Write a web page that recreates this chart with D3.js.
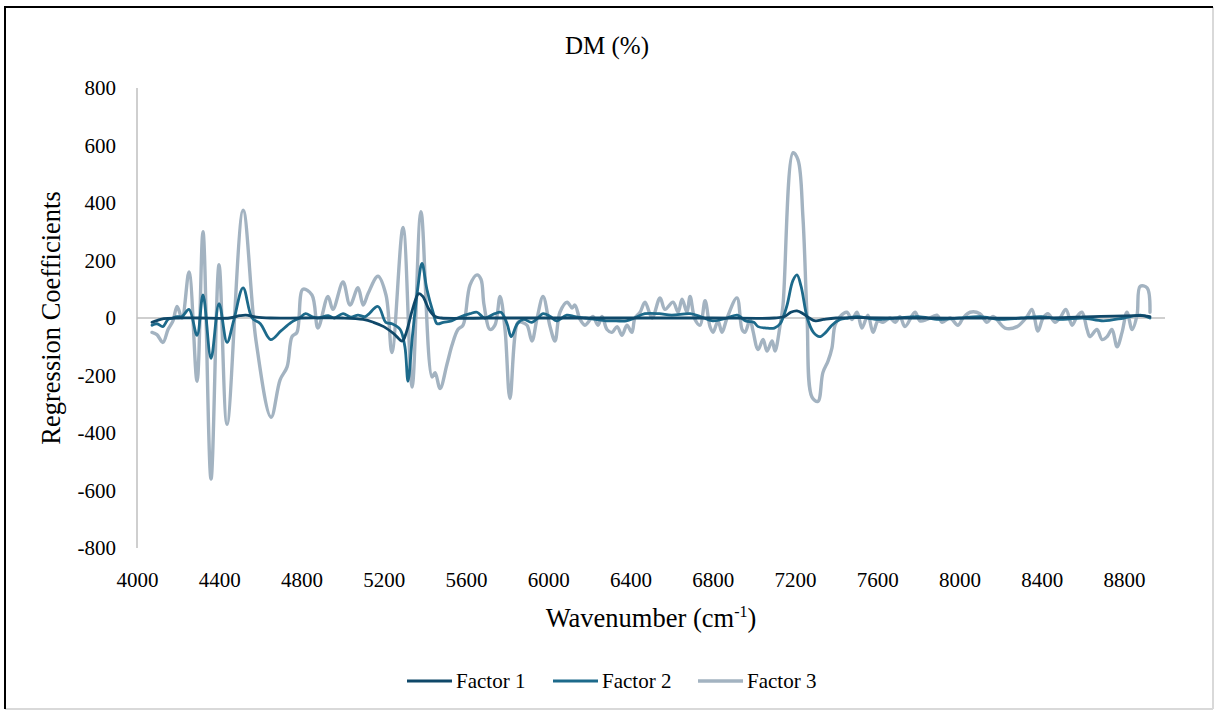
<!DOCTYPE html>
<html>
<head>
<meta charset="utf-8">
<script src="https://cdn.jsdelivr.net/npm/d3@7"></script>
<style>
  html, body { margin: 0; padding: 0; background: #fff; }
  svg { display: block; }
  svg text { font-family: "Liberation Serif", "Times New Roman", serif; fill: #000; }
</style>
</head>
<body>
<svg id="chart" width="1215" height="711"></svg>
<script>
// ---- data ----
const title = "DM (%)";
const seriesNames = ["Factor 1", "Factor 2", "Factor 3"];
const xTicks = [4000, 4400, 4800, 5200, 5600, 6000, 6400, 6800, 7200, 7600, 8000, 8400, 8800];
const yTicks = [-800, -600, -400, -200, 0, 200, 400, 600, 800];

const f1Wn  = [4073, 4100, 4130, 4200, 4300, 4450, 4500, 4530, 4580, 4650, 4800, 5000, 5100, 5150, 5200, 5250, 5290, 5310, 5340, 5370, 5390, 5420, 5450, 5480, 5700, 6200, 6800, 7100, 7150, 7180, 7210, 7240, 7270, 7300, 7340, 7400, 7800, 8400, 8880, 8927];
const f1Val = [-15, -8, -2, 0, 0, 0, 8, 10, 3, 0, 0, 0, -5, -15, -30, -55, -80, -50, 30, 85, 75, 30, 5, 0, 0, 0, 0, 0, 5, 20, 25, 15, 0, -10, -5, 0, 0, 0, 8, 5];

const f2Wn  = [4073, 4097, 4126, 4151, 4175, 4195, 4219, 4253, 4292, 4321, 4360, 4399, 4438, 4470, 4516, 4560, 4600, 4650, 4700, 4750, 4790, 4820, 4850, 4880, 4930, 4960, 5002, 5040, 5075, 5110, 5172, 5210, 5240, 5280, 5303, 5318, 5340, 5365, 5386, 5410, 5440, 5460, 5490, 5530, 5560, 5620, 5654, 5690, 5740, 5770, 5800, 5820, 5850, 5880, 5920, 5950, 5975, 6010, 6040, 6090, 6130, 6180, 6230, 6280, 6330, 6380, 6420, 6470, 6540, 6600, 6690, 6740, 6800, 6870, 6920, 6960, 7000, 7021, 7060, 7100, 7128, 7160, 7190, 7210, 7230, 7260, 7290, 7320, 7350, 7380, 7420, 7460, 7500, 7600, 7700, 7800, 7900, 8000, 8100, 8200, 8300, 8400, 8500, 8600, 8700, 8800, 8880, 8927];
const f2Val = [-25, -20, -30, -5, 0, 5, 5, 30, -60, 80, -140, 50, -85, -10, 105, 0, -20, -75, -45, -15, 0, 15, 5, 0, 8, 0, 15, 3, 10, 5, 40, -15, -20, -40, -100, -220, -60, 100, 190, 100, 20, -20, -15, -10, 0, 15, 20, 0, 15, 20, -20, -65, -20, -5, -15, 0, 15, 5, -10, 10, 5, 0, -5, -10, -10, -10, 0, 15, 15, 10, 15, 5, -10, 0, 10, -10, -15, -30, -35, -35, -20, 40, 130, 150, 110, 0, -50, -65, -50, -25, -5, 0, 5, -5, 0, 5, -5, 0, 5, -5, 0, 5, -5, 0, -10, 0, 10, 0];

const f3Wn  = [4073, 4097, 4126, 4151, 4175, 4195, 4219, 4253, 4292, 4321, 4360, 4399, 4438, 4516, 4579, 4652, 4696, 4730, 4754, 4778, 4807, 4851, 4880, 4929, 4953, 5002, 5036, 5075, 5100, 5124, 5172, 5211, 5240, 5294, 5338, 5381, 5435, 5450, 5474, 5508, 5532, 5561, 5586, 5620, 5654, 5673, 5688, 5717, 5741, 5766, 5790, 5814, 5853, 5873, 5897, 5921, 5946, 5975, 6009, 6033, 6057, 6092, 6116, 6130, 6155, 6179, 6194, 6218, 6242, 6262, 6286, 6310, 6335, 6359, 6383, 6407, 6422, 6447, 6471, 6505, 6544, 6568, 6607, 6632, 6651, 6675, 6690, 6714, 6739, 6763, 6787, 6802, 6826, 6845, 6870, 6918, 6943, 6957, 6982, 6996, 7021, 7045, 7064, 7089, 7103, 7128, 7142, 7191, 7215, 7239, 7259, 7283, 7312, 7336, 7361, 7380, 7395, 7419, 7453, 7477, 7502, 7526, 7555, 7580, 7604, 7628, 7662, 7687, 7711, 7735, 7784, 7808, 7842, 7891, 7916, 7954, 7993, 8018, 8052, 8100, 8134, 8164, 8222, 8280, 8329, 8353, 8382, 8407, 8431, 8465, 8489, 8518, 8548, 8572, 8596, 8621, 8635, 8669, 8694, 8718, 8742, 8767, 8791, 8815, 8840, 8864, 8879, 8913, 8927];
const f3Val = [-50, -58, -85, -40, -10, 40, 0, 160, -220, 300, -560, 185, -370, 375, -80, -345, -215, -170, -65, -50, 100, 80, -35, 75, 30, 125, 45, 105, 45, 85, 145, 80, -120, 315, -240, 370, -205, -190, -245, -160, -95, -40, -25, 115, 150, 135, 45, -40, -25, 75, -40, -280, -15, -15, -25, -80, 0, 75, -30, -80, 20, 55, 35, 45, -5, -25, -15, 5, -25, 5, -40, -50, -30, -60, -25, -50, 0, 20, 55, 0, 70, 30, 55, 20, 65, 20, 75, -5, -25, 60, -30, -50, -10, -50, 0, 70, -40, -50, -5, -45, -110, -75, -115, -80, -115, -25, 45, 575, 550, 350, 5, -275, -290, -190, -150, -105, -25, 5, 20, -5, 20, -35, 10, -50, -10, -15, 0, -15, 5, -30, 20, -10, -5, 10, -15, 0, -25, 0, 20, 15, -15, 5, -35, -30, 5, 30, -45, 0, 15, -15, 0, 30, -25, 5, 20, -40, -65, -40, -75, -65, -40, -100, -50, 20, -40, 10, 110, 105, 20];

const colors = ["#0f4869", "#1d6a8b", "#a3b3c1"];
const widths = [2.8, 2.8, 3.4];
const serif = '"Liberation Serif", "Times New Roman", serif';

// ---- drawing ----
const svg = d3.select("#chart");
const W = 1215, H = 711;

// frame
svg.append("rect").attr("x", 0).attr("y", 0).attr("width", W).attr("height", H).attr("fill", "#fff");
svg.append("line").attr("x1", 5).attr("x2", 1213).attr("y1", 709).attr("y2", 709).attr("stroke", "#d9d9d9").attr("stroke-width", 2);
svg.append("line").attr("x1", 1213).attr("x2", 1213).attr("y1", 7).attr("y2", 709).attr("stroke", "#d9d9d9").attr("stroke-width", 2);
svg.append("line").attr("x1", 4).attr("x2", 1213).attr("y1", 7).attr("y2", 7).attr("stroke", "#000").attr("stroke-width", 2);
svg.append("line").attr("x1", 5).attr("x2", 5).attr("y1", 6).attr("y2", 709).attr("stroke", "#000").attr("stroke-width", 2);

const x = d3.scaleLinear().domain([4000, 9000]).range([137, 1165]);
const y = d3.scaleLinear().domain([-800, 800]).range([548, 88]);

// y axis line
svg.append("line").attr("x1", x(4000)).attr("x2", x(4000)).attr("y1", y(800)).attr("y2", y(-800))
  .attr("stroke", "#bfbfbf").attr("stroke-width", 1.5);
// zero line
svg.append("line").attr("x1", x(4000)).attr("x2", x(9000)).attr("y1", y(0)).attr("y2", y(0))
  .attr("stroke", "#bfbfbf").attr("stroke-width", 1.5);

// y tick labels
const yAxis = d3.axisLeft(y).tickValues(yTicks).tickSize(0).tickPadding(21).tickFormat(d => String(d));
const ga = svg.append("g").attr("transform", `translate(${x(4000)},0)`).call(yAxis)
  .attr("font-family", serif).attr("font-size", 21);
ga.select(".domain").remove();
ga.selectAll("text").attr("fill", "#000");

// x tick labels
const xAxis = d3.axisBottom(x).tickValues(xTicks).tickSize(0).tickPadding(24).tickFormat(d => String(d));
const gx = svg.append("g").attr("transform", `translate(0,${y(-800)})`).call(xAxis)
  .attr("font-family", serif).attr("font-size", 21);
gx.select(".domain").remove();
gx.selectAll("text").attr("fill", "#000");

// series
const series = [
  { name: seriesNames[0], wn: f1Wn, val: f1Val },
  { name: seriesNames[1], wn: f2Wn, val: f2Val },
  { name: seriesNames[2], wn: f3Wn, val: f3Val }
];
const line = d3.line().x(d => x(d[0])).y(d => y(d[1])).curve(d3.curveCatmullRom.alpha(0.5));
[2, 1, 0].forEach(i => {
  const s = series[i];
  svg.append("path")
    .datum(s.wn.map((w, k) => [w, s.val[k]]))
    .attr("d", line)
    .attr("fill", "none")
    .attr("stroke", colors[i])
    .attr("stroke-width", widths[i])
    .attr("stroke-linejoin", "round")
    .attr("stroke-linecap", "round");
});

// title
svg.append("text").attr("x", 607).attr("y", 54).attr("text-anchor", "middle")
  .attr("font-family", serif).attr("font-size", 25).text(title);

// y axis title
svg.append("text").attr("transform", `translate(60,${y(0)}) rotate(-90)`).attr("text-anchor", "middle")
  .attr("font-family", serif).attr("font-size", 26.5).text("Regression Coefficients");

// x axis title
const xt = svg.append("text").attr("x", x(4000) + (x(9000) - x(4000)) / 2).attr("y", 627).attr("text-anchor", "middle")
  .attr("font-family", serif).attr("font-size", 26.5);
xt.append("tspan").text("Wavenumber (cm");
xt.append("tspan").attr("dy", -10).attr("font-size", 16).text("-1");
xt.append("tspan").attr("dy", 10).text(")");

// legend
const legX = [407, 553, 698];
const lg = svg.append("g");
series.forEach((s, i) => {
  lg.append("line").attr("x1", legX[i]).attr("x2", legX[i] + 45).attr("y1", 681).attr("y2", 681)
    .attr("stroke", colors[i]).attr("stroke-width", widths[i]);
  lg.append("text").attr("x", legX[i] + 49).attr("y", 688).attr("font-family", serif).attr("font-size", 21).text(s.name);
});
</script>
</body>
</html>
